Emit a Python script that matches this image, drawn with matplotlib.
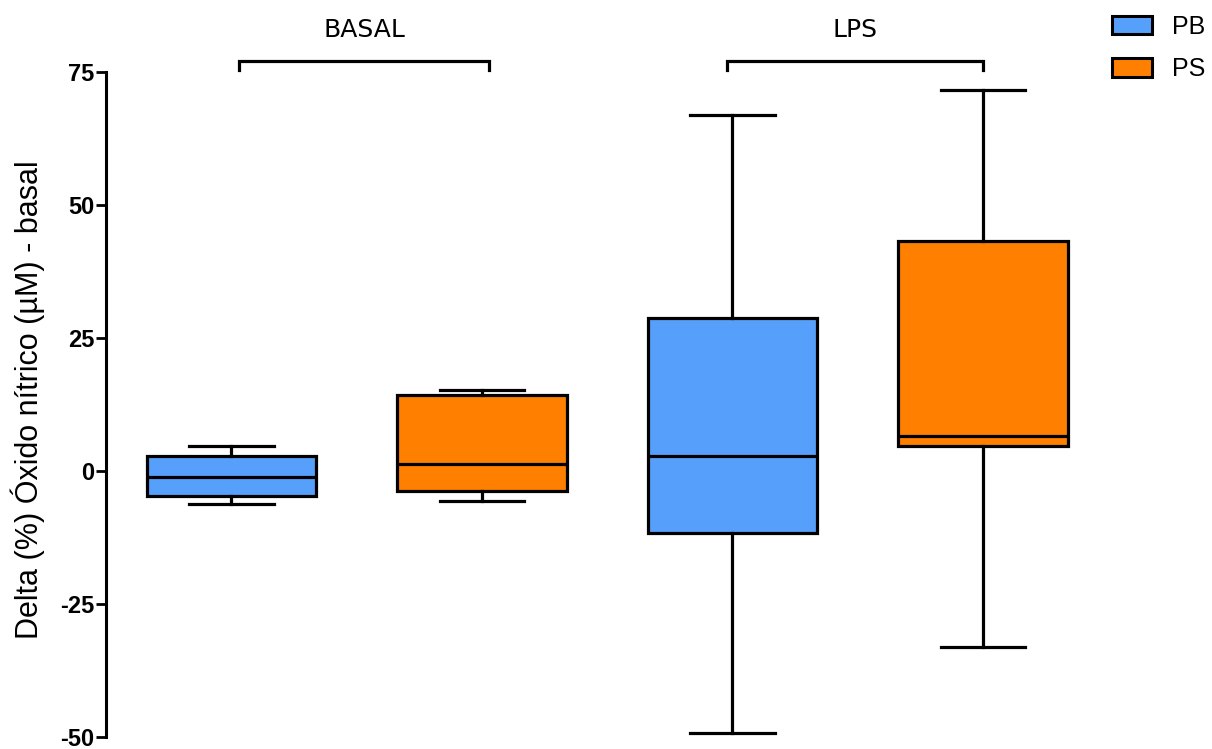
import matplotlib
matplotlib.use('Agg')
import matplotlib.pyplot as plt
from matplotlib.patches import Patch

# box statistics
groups = ['BASAL', 'LPS']
series = ['PB', 'PS']
whislo = [-6.3, -5.6, -49.3, -33.0]
q1 = [-4.8, -3.8, -11.6, 4.7]
med = [-1.2, 1.2, 2.7, 6.6]
q3 = [2.7, 14.3, 28.7, 43.1]
whishi = [4.6, 15.2, 66.9, 71.6]
colors = ['#56A0FB', '#FF8000']
yticks = [-50, -25, 0, 25, 50, 75]

plt.rcParams['font.family'] = ['Liberation Sans', 'DejaVu Sans']

fig = plt.figure(figsize=(12.12, 7.49), dpi=100)
ax = fig.add_axes([0.0875, 0.016, 0.80, 0.8885])

stats = []
for i in range(len(med)):
    stats.append(dict(whislo=whislo[i], q1=q1[i], med=med[i], q3=q3[i],
                      whishi=whishi[i], fliers=[]))

lw = 2.3
bp = ax.bxp(stats, positions=[1, 2, 3, 4], widths=0.676, patch_artist=True,
            showfliers=False,
            boxprops=dict(linewidth=lw, edgecolor='black'),
            medianprops=dict(color='black', linewidth=lw),
            whiskerprops=dict(color='black', linewidth=lw),
            capprops=dict(color='black', linewidth=lw))
for i, b in enumerate(bp['boxes']):
    b.set_facecolor(colors[i % 2])

ax.set_xlim(0.5, 4.37)
ax.set_ylim(-50, 75)
ax.set_yticks(yticks)
ax.set_yticklabels([str(t) for t in yticks], fontsize=17, fontweight='bold')
ax.tick_params(axis='y', length=7, width=2, pad=1.5)
ax.set_xticks([])
for s in ['top', 'right', 'bottom']:
    ax.spines[s].set_visible(False)
ax.spines['left'].set_linewidth(2.2)

ax.set_ylabel('Delta (%) Óxido nítrico (µM) - basal', fontsize=22)
ax.yaxis.set_label_coords(-0.063, 0.507)

# group brackets
brackets = [(1.03, 2.03), (2.98, 4.0)]
for (a, b), g in zip(brackets, groups):
    ax.plot([a, a, b, b], [75.3, 77.0, 77.0, 75.3], color='black', lw=2.3,
            clip_on=False, solid_joinstyle='miter')
    ax.text((a + b) / 2, 80.5, g, ha='center', va='bottom', fontsize=18,
            family='DejaVu Sans', clip_on=False)

handles = [Patch(facecolor=c, edgecolor='black', linewidth=2.2) for c in colors]
fig.legend(handles, series, loc='upper left', bbox_to_anchor=(1094 / 1212, 1.004),
           frameon=False, fontsize=18, handlelength=1.6, handleheight=0.76,
           labelspacing=0.75, handletextpad=0.8, borderaxespad=0.3)

fig.savefig('out.png', dpi=100)
